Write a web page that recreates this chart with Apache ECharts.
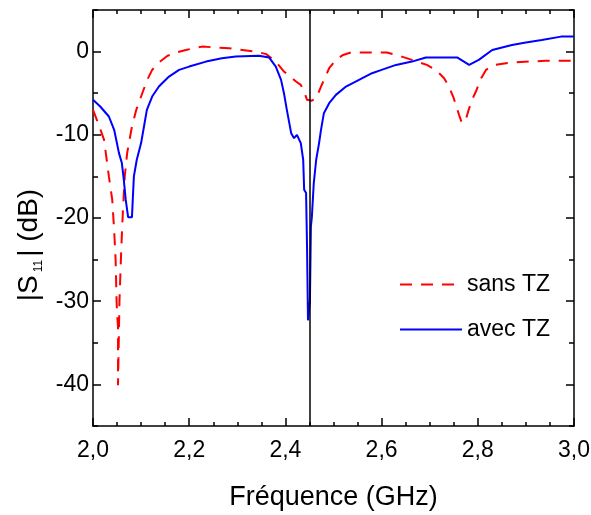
<!DOCTYPE html>
<html><head><meta charset="utf-8">
<script src="https://cdn.jsdelivr.net/npm/echarts@6/dist/echarts.min.js"></script>
<style>html,body{margin:0;padding:0;background:#fff}#c{width:591px;height:515px}</style>
</head><body><div id="c"></div>
<script>
// ---- data ----
const seriesNames = ['sans TZ', 'avec TZ'];

const sansFreq = [2.000,2.012,2.023,2.033,2.040,2.044,2.047,2.049,2.050,2.052,2.052,2.055,2.058,2.060,2.062,2.066,2.071,2.081,2.090,2.100,2.112,2.123,2.137,2.155,2.173,2.193,2.227,2.283,2.339,2.360,2.380,2.397,2.410,2.422,2.432,2.440,2.445,2.455,2.464,2.474,2.491,2.505,2.520,2.536,2.611,2.642,2.663,2.694,2.713,2.730,2.740,2.750,2.761,2.767,2.775,2.781,2.788,2.796,2.807,2.817,2.834,2.871,2.941,3.000];
const sansDb   = [-7.0,-8.8,-10.6,-15.0,-17.8,-21.5,-25.0,-29.9,-31.5,-33.1,-40.1,-30.0,-25.0,-22.0,-19.4,-15.0,-12.2,-9.0,-7.0,-5.4,-3.5,-2.2,-1.3,-0.5,-0.1,0.2,0.6,0.4,0.0,-0.3,-1.2,-2.4,-3.0,-3.6,-4.0,-5.0,-5.8,-5.9,-5.6,-4.2,-2.0,-1.0,-0.4,-0.1,-0.1,-0.6,-1.0,-1.6,-2.2,-3.2,-4.2,-5.6,-7.6,-8.6,-8.2,-7.0,-5.8,-4.8,-3.2,-2.2,-1.6,-1.3,-1.1,-1.1];

const avecFreq = [2.000,2.015,2.033,2.044,2.054,2.060,2.064,2.068,2.073,2.081,2.083,2.085,2.091,2.100,2.106,2.112,2.123,2.137,2.158,2.179,2.200,2.235,2.268,2.297,2.345,2.366,2.380,2.391,2.397,2.403,2.412,2.418,2.424,2.432,2.437,2.439,2.443,2.445,2.447,2.451,2.453,2.455,2.459,2.464,2.470,2.474,2.480,2.491,2.505,2.526,2.553,2.580,2.600,2.630,2.663,2.692,2.757,2.782,2.802,2.830,2.871,2.900,2.933,2.973,3.000];
const avecDb   = [-5.8,-6.6,-7.8,-9.4,-12.2,-13.4,-15.4,-17.8,-19.9,-19.9,-17.4,-15.0,-13.0,-11.0,-9.0,-7.0,-5.4,-4.2,-3.0,-2.2,-1.8,-1.2,-0.8,-0.6,-0.5,-0.7,-1.8,-3.4,-5.0,-7.0,-9.8,-10.4,-10.0,-11.0,-13.0,-16.6,-17.0,-23.5,-32.3,-30.0,-21.0,-19.9,-15.8,-13.0,-11.0,-9.4,-7.4,-6.2,-5.2,-4.2,-3.4,-2.6,-2.2,-1.6,-1.2,-0.7,-0.7,-1.6,-1.0,0.2,0.8,1.1,1.4,1.8,1.8];

const markerFreq = 2.45;
const yLabelValues = [-40, -30, -20, -10, 0];
const yMinorValues = [-45, -35, -25, -15, -5, 5];
const xTitle = 'Fréquence (GHz)';

// ---- chart ----
const zip = (a, b) => a.map((v, i) => [v, b[i]]);
const FONT = '"Liberation Sans", Arial, sans-serif';
const black = '#000';

const chart = echarts.init(document.getElementById('c'), null, {renderer: 'canvas'});

const xBase = {
  type: 'value', min: 2, max: 3, interval: 0.2, gridIndex: 0,
  axisLine: {show: true, onZero: false, lineStyle: {color: black, width: 1.5}},
  axisTick: {show: true, inside: true, length: 8, lineStyle: {color: black, width: 1.5}},
  minorTick: {show: true, splitNumber: 4, length: 4, lineStyle: {color: black, width: 1.5}},
  splitLine: {show: false}
};
const yBase = {
  type: 'value', min: -45, max: 5, interval: 5, gridIndex: 0,
  axisLine: {show: true, onZero: false, lineStyle: {color: black, width: 1.5}},
  splitLine: {show: false}
};

chart.setOption({
  animation: false,
  backgroundColor: '#fff',
  textStyle: {fontFamily: FONT},
  grid: {left: 93, right: 17, top: 10, bottom: 89, containLabel: false, outerBoundsMode: 'none'},
  legend: {
    data: seriesNames,
    orient: 'vertical',
    left: 394, top: 268,
    itemWidth: 62, itemHeight: 14, itemGap: 22,
    itemStyle: {opacity: 0},
    textStyle: {fontFamily: FONT, fontSize: 23, color: black}
  },
  xAxis: [
    Object.assign({}, xBase, {
      position: 'bottom',
      axisLabel: {show: true, fontSize: 23, color: black, margin: 13, fontFamily: FONT,
        formatter: v => v.toFixed(1).replace('.', ',')},
      name: xTitle, nameLocation: 'middle', nameGap: 58,
      nameTextStyle: {fontSize: 27, color: black, fontFamily: FONT}
    }),
    Object.assign({}, xBase, {position: 'top', axisLabel: {show: false}})
  ],
  yAxis: [
    Object.assign({}, yBase, {
      position: 'left',
      axisTick: {show: true, inside: true, length: 8, customValues: yLabelValues, lineStyle: {color: black, width: 1.5}},
      axisLabel: {show: true, fontSize: 23, color: black, margin: 4, fontFamily: FONT, customValues: yLabelValues},
      name: '{m||S}{sub|11}{m|| (dB)}', nameLocation: 'middle', nameRotate: 90, nameGap: 46,
      nameTextStyle: {
        color: black, fontFamily: FONT, fontSize: 28, padding: [0, 54, 0, 0],
        rich: {
          m: {fontSize: 28, lineHeight: 30, verticalAlign: 'top', color: black, fontFamily: FONT},
          sub: {fontSize: 12, lineHeight: 12, padding: [26, 3, 0, 3], verticalAlign: 'bottom', color: black, fontFamily: FONT}
        }
      }
    }),
    Object.assign({}, yBase, {
      position: 'left', axisLine: {show: false},
      axisTick: {show: true, inside: true, length: 5, customValues: yMinorValues, lineStyle: {color: black, width: 1.5}},
      axisLabel: {show: false}
    }),
    Object.assign({}, yBase, {
      position: 'right',
      axisTick: {show: true, inside: true, length: 8, customValues: yLabelValues, lineStyle: {color: black, width: 1.5}},
      axisLabel: {show: false}
    }),
    Object.assign({}, yBase, {
      position: 'right', axisLine: {show: false},
      axisTick: {show: true, inside: true, length: 5, customValues: yMinorValues, lineStyle: {color: black, width: 1.5}},
      axisLabel: {show: false}
    })
  ],
  series: [
    {
      name: seriesNames[0], type: 'line', xAxisIndex: 0, yAxisIndex: 0,
      data: zip(sansFreq, sansDb), symbol: 'none', showSymbol: false,
      lineStyle: {color: '#ff0000', width: 2, type: [12, 9]},
      itemStyle: {color: '#ff0000'}, z: 3
    },
    {
      name: seriesNames[1], type: 'line', xAxisIndex: 0, yAxisIndex: 0,
      data: zip(avecFreq, avecDb), symbol: 'none', showSymbol: false,
      lineStyle: {color: '#0000ff', width: 2, type: 'solid'},
      itemStyle: {color: '#0000ff'}, z: 4,
      markLine: {
        silent: true, symbol: ['none', 'none'], label: {show: false},
        lineStyle: {color: black, width: 1.5, type: 'solid'},
        data: [{xAxis: markerFreq}]
      }
    }
  ]
});
</script></body></html>
